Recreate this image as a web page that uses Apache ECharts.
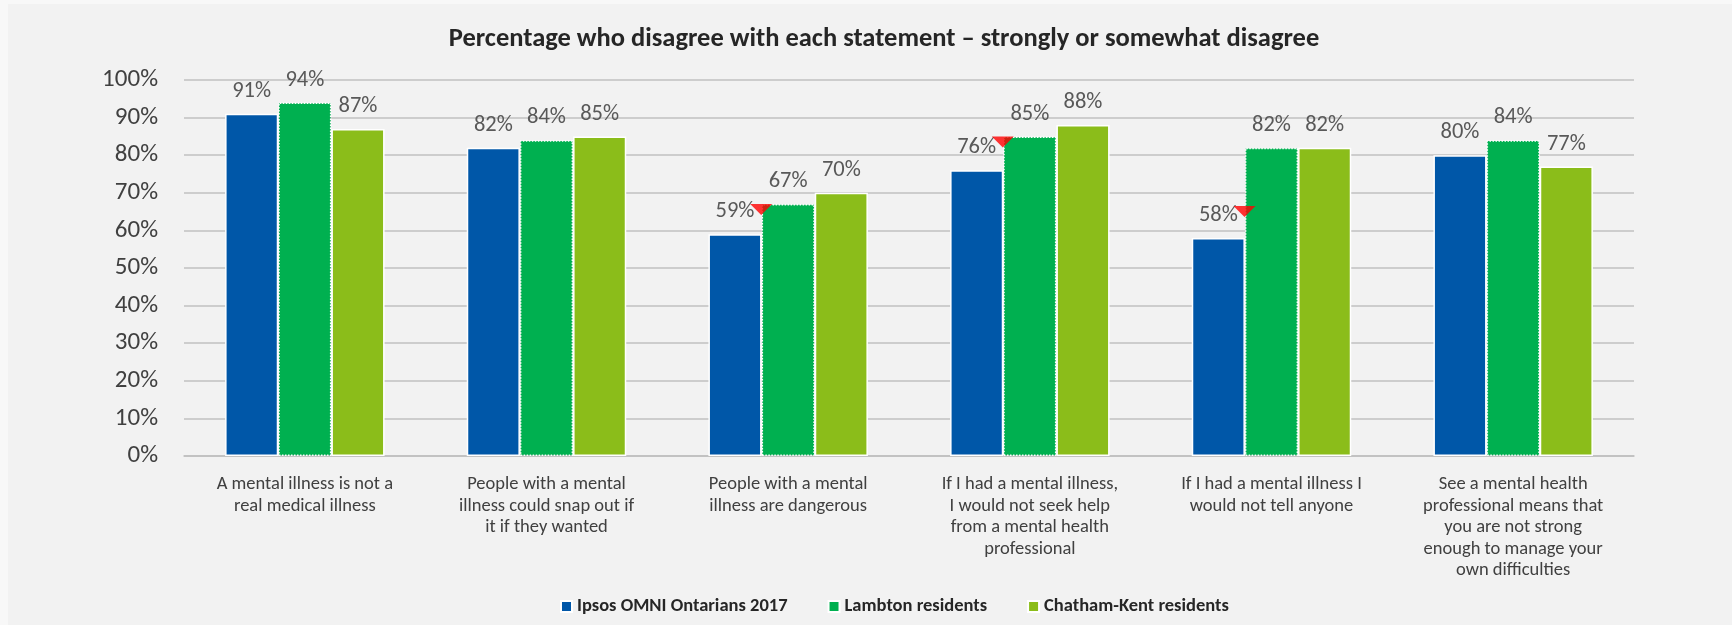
<!DOCTYPE html>
<html>
<head>
<meta charset="utf-8">
<script src="https://cdn.jsdelivr.net/npm/echarts@6/dist/echarts.min.js"></script>
<style>
  html, body { margin: 0; padding: 0; background: #f8f8f8; }
  #chart { position: absolute; left: 8px; top: 4px; width: 1724px; height: 621px; }
</style>
</head>
<body>
<div id="chart"></div>
<script>
// Survey statements (x-axis categories)
const categories = [
  'A mental illness is not a\nreal medical illness',
  'People with a mental\nillness could snap out if\nit if they wanted',
  'People with a mental\nillness are dangerous',
  'If I had a mental illness,\nI would not seek help\nfrom a mental health\nprofessional',
  'If I had a mental illness I\nwould not tell anyone',
  'See a mental health\nprofessional means that\nyou are not strong\nenough to manage your\nown difficulties'
];

const seriesNames = ['Ipsos OMNI Ontarians 2017', 'Lambton residents', 'Chatham-Kent residents'];

// Percentage who disagree, per group
const ipsosValues = [91, 82, 59, 76, 58, 80];
const lambtonValues = [94, 84, 67, 85, 82, 84];
const chathamValues = [87, 85, 70, 88, 82, 77];

// Red flags for a significant difference (top edge of each flag, in %)
const significanceFlags = [null, null, 67, 85, 66.5, null];

const titleText = 'Percentage who disagree with each statement \u2013 strongly or somewhat disagree';

const FONT = 'Carlito, Calibri, Lato, sans-serif';

const chart = echarts.init(document.getElementById('chart'), null, { renderer: 'canvas' });

const barLabel = {
  show: true,
  position: 'top',
  distance: 11,
  formatter: '{c}%',
  color: '#595959',
  fontFamily: FONT,
  fontSize: 22.5
};

chart.setOption({
  backgroundColor: '#f2f2f2',
  animation: false,
  graphic: [{
    type: 'text',
    x: 876,
    y: 35,
    style: {
      text: titleText,
      fill: '#262626',
      font: 'bold 26.5px ' + FONT,
      textAlign: 'center',
      textVerticalAlign: 'middle'
    }
  }],
  legend: {
    data: seriesNames,
    left: 547,
    top: 588,
    itemWidth: 11,
    itemHeight: 11,
    itemGap: 40,
    icon: 'rect',
    textStyle: { fontFamily: FONT, fontSize: 18.5, fontWeight: 'bold', color: '#262626' }
  },
  grid: { left: 176, right: 98, top: 76, bottom: 169, containLabel: false },
  xAxis: {
    type: 'category',
    data: categories,
    axisTick: { show: false },
    axisLine: { lineStyle: { color: '#bfbfbf', width: 1.5 } },
    axisLabel: {
      interval: 0,
      margin: 18,
      color: '#404040',
      fontFamily: FONT,
      fontSize: 18.5,
      lineHeight: 21.5,
      align: 'center'
    }
  },
  yAxis: {
    type: 'value',
    min: 0,
    max: 100,
    interval: 10,
    axisLine: { show: false },
    axisTick: { show: false },
    splitLine: { lineStyle: { color: '#c0c0c0', width: 1.5 } },
    axisLabel: {
      formatter: '{value}%',
      margin: 26,
      color: '#404040',
      fontFamily: FONT,
      fontSize: 25
    }
  },
  series: [
    {
      name: seriesNames[0],
      type: 'bar',
      data: ipsosValues,
      barGap: '0%',
      barCategoryGap: '34%',
      itemStyle: { color: '#0057a8', borderColor: '#ffffff', borderWidth: 1.5 },
      label: barLabel
    },
    {
      name: seriesNames[1],
      type: 'bar',
      data: lambtonValues,
      barGap: '0%',
      barCategoryGap: '34%',
      itemStyle: { color: '#00b050', borderColor: '#ffffff', borderWidth: 1.5, borderType: 'dotted' },
      label: barLabel
    },
    {
      name: seriesNames[2],
      type: 'bar',
      data: chathamValues,
      barGap: '0%',
      barCategoryGap: '34%',
      itemStyle: { color: '#8bbd1a', borderColor: '#ffffff', borderWidth: 1.5 },
      label: barLabel
    },
    {
      name: 'significance',
      type: 'scatter',
      data: significanceFlags,
      symbol: 'path://M0,0 L2,0 L1,1 Z',
      symbolSize: [22, 11],
      symbolOffset: [-27, 5.5],
      itemStyle: { color: '#ff0000' },
      z: 10,
      silent: true
    }
  ]
});
</script>
</body>
</html>
